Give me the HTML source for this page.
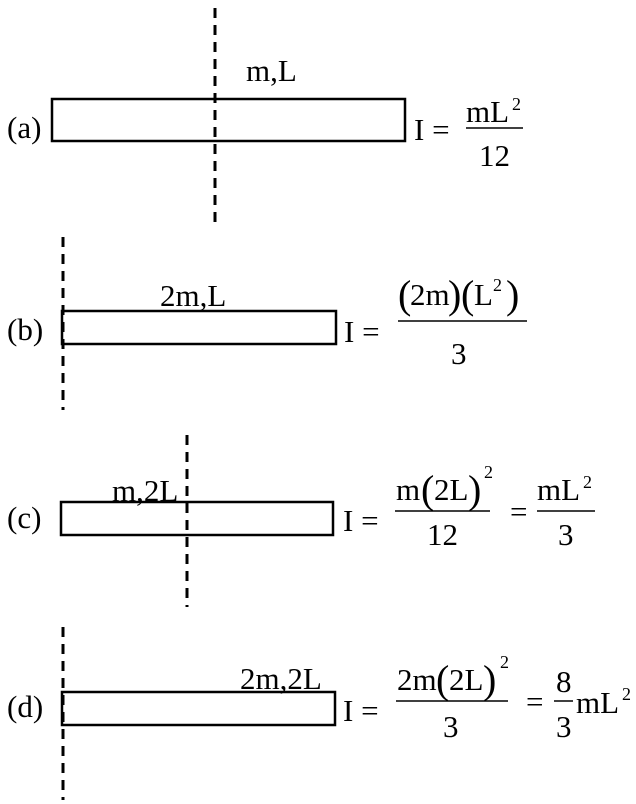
<!DOCTYPE html>
<html><head><meta charset="utf-8"><style>
html,body{margin:0;padding:0;background:#fff;}
svg{display:block;}
text{font-family:"Liberation Serif",serif;font-size:31px;fill:#000;}
.s{font-size:18px;}
.p{font-size:40px;}
</style></head><body>
<svg width="636" height="804" viewBox="0 0 636 804" xmlns="http://www.w3.org/2000/svg">
<g fill="none" stroke="#000" stroke-width="2.5">
<rect x="52" y="99" width="353" height="42"/>
<rect x="62" y="311" width="274" height="33"/>
<rect x="61" y="502" width="272" height="33"/>
<rect x="62" y="692" width="273" height="33"/>
</g>
<g stroke="#000" stroke-width="3" stroke-dasharray="10,7">
<line x1="215" y1="8" x2="215" y2="224"/>
<line x1="63" y1="237" x2="63" y2="410"/>
<line x1="187" y1="435" x2="187" y2="607"/>
<line x1="63" y1="627" x2="63" y2="800"/>
</g>
<g stroke="#000" stroke-width="1.5">
<line x1="466" y1="128" x2="523" y2="128"/>
<line x1="398" y1="321" x2="527" y2="321"/>
<line x1="395" y1="511" x2="490" y2="511"/>
<line x1="537" y1="511" x2="595" y2="511"/>
<line x1="396" y1="701" x2="508" y2="701"/>
<line x1="554" y1="701" x2="573" y2="701"/>
</g>
<!-- (a) -->
<text x="246" y="81">m,L</text>
<text x="7" y="138">(a)</text>
<text x="414" y="140">I =</text>
<text x="466" y="122">mL</text><text class="s" x="512" y="110">2</text>
<text x="479" y="166">12</text>
<!-- (b) -->
<text x="160" y="306">2m,L</text>
<text x="7" y="340">(b)</text>
<text x="344" y="342">I =</text>
<text class="p" x="398" y="308">(</text><text x="410" y="305">2m</text><text class="p" x="448" y="308">)</text><text class="p" x="461" y="308">(</text><text x="474" y="305">L</text><text class="s" x="493" y="291">2</text><text class="p" x="506" y="308">)</text>
<text x="451" y="364">3</text>
<!-- (c) -->
<text x="112" y="501">m,2L</text>
<text x="7" y="528">(c)</text>
<text x="343" y="531">I =</text>
<text x="396" y="500">m</text><text class="p" x="421" y="503">(</text><text x="434" y="500">2L</text><text class="p" x="468" y="503">)</text><text class="s" x="484" y="478">2</text>
<text x="427" y="545">12</text>
<text x="510" y="522">=</text>
<text x="537" y="500">mL</text><text class="s" x="583" y="488">2</text>
<text x="558" y="545">3</text>
<!-- (d) -->
<text x="240" y="689">2m,2L</text>
<text x="7" y="717">(d)</text>
<text x="343" y="721">I =</text>
<text x="397" y="690">2m</text><text class="p" x="436" y="693">(</text><text x="449" y="690">2L</text><text class="p" x="483" y="693">)</text><text class="s" x="500" y="668">2</text>
<text x="443" y="737">3</text>
<text x="526" y="712">=</text>
<text x="556" y="692">8</text>
<text x="556" y="737">3</text>
<text x="576" y="713">mL</text><text class="s" x="622" y="700">2</text>
</svg>
</body></html>
